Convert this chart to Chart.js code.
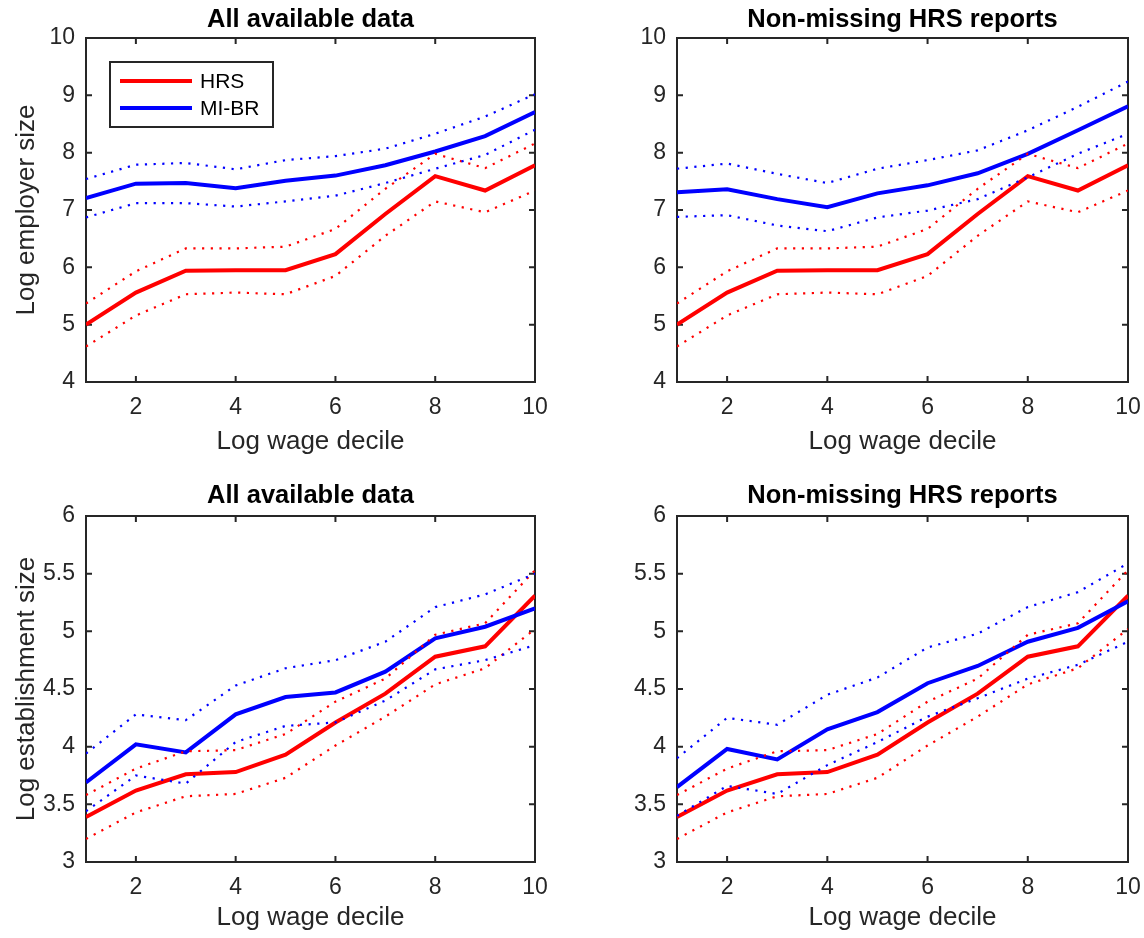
<!DOCTYPE html>
<html lang="en">
<head>
<meta charset="UTF-8">
<title>Employer and establishment size by log wage decile</title>
<script src="https://cdn.jsdelivr.net/npm/chart.js"></script>
<style>
  body { margin: 0; background: #fff; }
  .wrap { position: relative; width: 1144px; height: 938px; overflow: hidden; }
  canvas { position: absolute; }
</style>
</head>
<body>
<div class="wrap">
  <canvas id="empAll" width="572" height="469" style="left:0;top:0"></canvas>
  <canvas id="empNm" width="572" height="469" style="left:572px;top:0"></canvas>
  <canvas id="estAll" width="572" height="469" style="left:0;top:469px"></canvas>
  <canvas id="estNm" width="572" height="469" style="left:572px;top:469px"></canvas>
</div>

<script>
// x axis: log wage decile
const deciles = [1, 2, 3, 4, 5, 6, 7, 8, 9, 10];
const xTicks = [2, 4, 6, 8, 10];
const empTicks = [4, 5, 6, 7, 8, 9, 10];
const estTicks = [3, 3.5, 4, 4.5, 5, 5.5, 6];

// log employer size (top row)
const hrsEmp   = [5.00, 5.56, 5.94, 5.95, 5.95, 6.23, 6.93, 7.59, 7.34, 7.78];
const hrsEmpHi = [5.37, 5.93, 6.33, 6.33, 6.36, 6.67, 7.37, 7.98, 7.73, 8.16];
const hrsEmpLo = [4.62, 5.16, 5.53, 5.56, 5.53, 5.85, 6.55, 7.15, 6.96, 7.34];
const mibrEmpAll   = [7.21, 7.46, 7.47, 7.38, 7.51, 7.60, 7.78, 8.02, 8.29, 8.71];
const mibrEmpAllHi = [7.54, 7.79, 7.82, 7.71, 7.87, 7.94, 8.07, 8.33, 8.63, 9.02];
const mibrEmpAllLo = [6.87, 7.12, 7.12, 7.06, 7.15, 7.25, 7.47, 7.72, 7.96, 8.40];
const mibrEmpNm   = [7.31, 7.36, 7.19, 7.05, 7.29, 7.43, 7.64, 7.98, 8.39, 8.81];
const mibrEmpNmHi = [7.72, 7.81, 7.63, 7.47, 7.72, 7.87, 8.04, 8.39, 8.80, 9.24];
const mibrEmpNmLo = [6.88, 6.91, 6.73, 6.63, 6.87, 6.99, 7.19, 7.57, 7.98, 8.33];

// log establishment size (bottom row)
const hrsEst   = [3.39, 3.62, 3.76, 3.78, 3.93, 4.21, 4.46, 4.78, 4.87, 5.31];
const hrsEstHi = [3.58, 3.81, 3.96, 3.97, 4.11, 4.39, 4.59, 4.97, 5.07, 5.53];
const hrsEstLo = [3.20, 3.43, 3.57, 3.59, 3.73, 4.01, 4.26, 4.54, 4.68, 5.02];
const mibrEstAll   = [3.69, 4.02, 3.95, 4.28, 4.43, 4.47, 4.65, 4.94, 5.04, 5.20];
const mibrEstAllHi = [3.94, 4.28, 4.23, 4.53, 4.68, 4.75, 4.91, 5.21, 5.32, 5.50];
const mibrEstAllLo = [3.44, 3.75, 3.68, 4.04, 4.18, 4.21, 4.40, 4.67, 4.75, 4.88];
const mibrEstNm   = [3.65, 3.98, 3.89, 4.15, 4.30, 4.55, 4.70, 4.91, 5.03, 5.26];
const mibrEstNmHi = [3.90, 4.25, 4.19, 4.45, 4.60, 4.86, 4.98, 5.21, 5.34, 5.59];
const mibrEstNmLo = [3.40, 3.66, 3.59, 3.84, 4.04, 4.26, 4.42, 4.59, 4.71, 4.91];

const RED = '#ff0000';
const BLUE = '#0000ff';
const AXIS = '#262626';
const FONT = '"Liberation Sans", Arial, Helvetica, sans-serif';

Chart.defaults.font.family = FONT;
Chart.defaults.color = AXIS;
Chart.defaults.animation = false;

function pts(vals) {
  return deciles.map((d, i) => ({ x: d, y: vals[i] }));
}
function solid(label, vals, color) {
  return { label, data: pts(vals), borderColor: color, borderWidth: 4, pointRadius: 0, tension: 0 };
}
function dotted(vals, color) {
  return { label: '', data: pts(vals), borderColor: color, borderWidth: 2.2, borderDash: [2.2, 6.5], pointRadius: 0, tension: 0 };
}

// matlab style box with inward ticks
const frame = {
  id: 'frame',
  beforeDatasetsDraw(chart) {
    const { ctx, chartArea: a, scales: { x, y } } = chart;
    ctx.save();
    ctx.strokeStyle = AXIS;
    ctx.lineWidth = 2;
    ctx.beginPath();
    x.ticks.forEach(t => {
      const px = x.getPixelForValue(t.value);
      ctx.moveTo(px, a.bottom); ctx.lineTo(px, a.bottom - 6);
      ctx.moveTo(px, a.top); ctx.lineTo(px, a.top + 6);
    });
    y.ticks.forEach(t => {
      const py = y.getPixelForValue(t.value);
      ctx.moveTo(a.left, py); ctx.lineTo(a.left + 6, py);
      ctx.moveTo(a.right, py); ctx.lineTo(a.right - 6, py);
    });
    ctx.stroke();
    ctx.strokeRect(a.left, a.top, a.right - a.left, a.bottom - a.top);
    ctx.restore();
  }
};

// boxed legend in the upper left corner
const boxLegend = {
  id: 'boxLegend',
  afterDatasetsDraw(chart, args, opts) {
    if (!opts.show) return;
    const { ctx, chartArea: a } = chart;
    const bx = a.left + 24, by = a.top + 24, bw = 163, bh = 65;
    const items = ['HRS', 'MI-BR'].map(l => chart.data.datasets.find(d => d.label === l));
    ctx.save();
    ctx.fillStyle = '#fff';
    ctx.fillRect(bx, by, bw, bh);
    ctx.strokeStyle = AXIS;
    ctx.lineWidth = 2;
    ctx.strokeRect(bx, by, bw, bh);
    ctx.font = '21px ' + FONT;
    ctx.textBaseline = 'middle';
    items.forEach((d, i) => {
      const yy = by + 19 + i * 27;
      ctx.strokeStyle = d.borderColor;
      ctx.lineWidth = 4;
      ctx.beginPath();
      ctx.moveTo(bx + 10, yy);
      ctx.lineTo(bx + 82, yy);
      ctx.stroke();
      ctx.fillStyle = '#000';
      ctx.fillText(d.label, bx + 90, yy + 1);
    });
    ctx.restore();
  }
};

function panel(id, p) {
  new Chart(document.getElementById(id), {
    type: 'line',
    data: {
      datasets: [
        dotted(p.mibrLo, BLUE), dotted(p.mibrHi, BLUE),
        dotted(p.hrsLo, RED), dotted(p.hrsHi, RED),
        solid('MI-BR', p.mibr, BLUE), solid('HRS', p.hrs, RED)
      ]
    },
    options: {
      responsive: false,
      layout: { padding: { left: 0, right: p.rightPad, top: 0, bottom: 0 } },
      plugins: {
        legend: { display: false },
        tooltip: { enabled: false },
        title: {
          display: true, text: p.title, color: '#000', fullSize: false,
          font: { size: 25.5, weight: 'bold' },
          padding: p.titlePad
        },
        boxLegend: { show: !!p.legend }
      },
      scales: {
        x: {
          type: 'linear', min: 1, max: 10,
          afterBuildTicks: s => { s.ticks = xTicks.map(v => ({ value: v })); },
          afterFit: s => { s.height = p.xHeight; },
          // invisible tick marks only to push the labels down
          grid: { display: true, drawOnChartArea: false, drawTicks: true, tickLength: 12, color: 'rgba(0,0,0,0)' },
          border: { display: false },
          ticks: { font: { size: 23 }, padding: 0, maxRotation: 0, callback: v => String(v) },
          title: { display: true, text: 'Log wage decile', font: { size: 26 }, padding: { top: 0, bottom: p.xTitleBottom } }
        },
        y: {
          type: 'linear', min: p.yTicks[0], max: p.yTicks[p.yTicks.length - 1],
          afterBuildTicks: s => { s.ticks = p.yTicks.map(v => ({ value: v })); },
          afterFit: s => { s.width = p.yWidth; },
          grid: { display: false, drawTicks: false },
          border: { display: false },
          ticks: { font: { size: 23 }, padding: 11, callback: v => String(v) },
          title: { display: !!p.ylabel, text: p.ylabel || '', font: { size: 26 }, padding: { top: 11, bottom: 0 } }
        }
      }
    },
    plugins: [frame, boxLegend]
  });
}

panel('empAll', {
  title: 'All available data', ylabel: 'Log employer size', legend: true, yTicks: empTicks,
  hrs: hrsEmp, hrsHi: hrsEmpHi, hrsLo: hrsEmpLo,
  mibr: mibrEmpAll, mibrHi: mibrEmpAllHi, mibrLo: mibrEmpAllLo,
  titlePad: { top: 4.5, bottom: 2.9 }, yWidth: 86, rightPad: 37, xHeight: 87, xTitleBottom: 12
});
panel('empNm', {
  title: 'Non-missing HRS reports', yTicks: empTicks,
  hrs: hrsEmp, hrsHi: hrsEmpHi, hrsLo: hrsEmpLo,
  mibr: mibrEmpNm, mibrHi: mibrEmpNmHi, mibrLo: mibrEmpNmLo,
  titlePad: { top: 4.5, bottom: 2.9 }, yWidth: 105, rightPad: 16, xHeight: 87, xTitleBottom: 12
});
panel('estAll', {
  title: 'All available data', ylabel: 'Log establishment size', yTicks: estTicks,
  hrs: hrsEst, hrsHi: hrsEstHi, hrsLo: hrsEstLo,
  mibr: mibrEstAll, mibrHi: mibrEstAllHi, mibrLo: mibrEstAllLo,
  titlePad: { top: 11.5, bottom: 4.9 }, yWidth: 86, rightPad: 37, xHeight: 76, xTitleBottom: 4.5
});
panel('estNm', {
  title: 'Non-missing HRS reports', yTicks: estTicks,
  hrs: hrsEst, hrsHi: hrsEstHi, hrsLo: hrsEstLo,
  mibr: mibrEstNm, mibrHi: mibrEstNmHi, mibrLo: mibrEstNmLo,
  titlePad: { top: 11.5, bottom: 4.9 }, yWidth: 105, rightPad: 16, xHeight: 76, xTitleBottom: 4.5
});
</script>
</body>
</html>
